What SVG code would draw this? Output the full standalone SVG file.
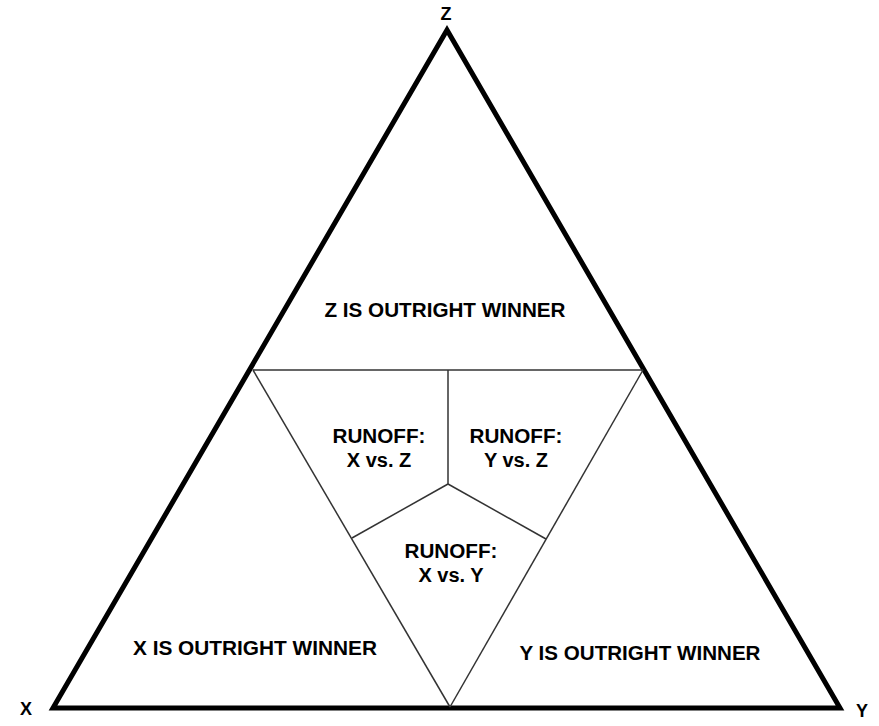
<svg xmlns="http://www.w3.org/2000/svg" width="879" height="726" viewBox="0 0 879 726">
<style>
.t{font-family:"Liberation Sans",Arial,sans-serif;font-weight:bold;font-size:20px;fill:#000;text-anchor:middle}
.v{font-family:"Liberation Sans",Arial,sans-serif;font-weight:bold;font-size:18px;fill:#000;text-anchor:middle}
.thin{stroke:#333;stroke-width:1.5;fill:none}
</style>
<rect width="879" height="726" fill="#fff"/>
<g id="connectors">
<polygon points="447,30 53,708 840,708" fill="none" stroke="#000" stroke-width="5" stroke-linejoin="miter"/>
<line class="thin" x1="253" y1="370" x2="643" y2="370"/>
<line class="thin" x1="253" y1="370" x2="450" y2="707"/>
<line class="thin" x1="643" y1="370" x2="450" y2="707"/>
<line class="thin" x1="448" y1="370" x2="448" y2="484"/>
<line class="thin" x1="448" y1="484" x2="352" y2="538"/>
<line class="thin" x1="448" y1="484" x2="546" y2="539"/>
</g>
<g id="vertexZ"><text class="v" x="446" y="20">Z</text></g>
<g id="vertexX"><text class="v" x="26" y="715">X</text></g>
<g id="vertexY"><text class="v" x="862" y="717">Y</text></g>
<g id="zWin"><text class="t" x="445" y="317" textLength="241" lengthAdjust="spacingAndGlyphs">Z IS OUTRIGHT WINNER</text></g>
<g id="xWin"><text class="t" x="255" y="655" textLength="244" lengthAdjust="spacingAndGlyphs">X IS OUTRIGHT WINNER</text></g>
<g id="yWin"><text class="t" x="640" y="660" textLength="241" lengthAdjust="spacingAndGlyphs">Y IS OUTRIGHT WINNER</text></g>
<g id="runoffXZ"><text class="t" x="379" y="443" textLength="93" lengthAdjust="spacingAndGlyphs">RUNOFF:</text><text class="t" x="379" y="467">X vs. Z</text></g>
<g id="runoffYZ"><text class="t" x="516" y="443" textLength="93" lengthAdjust="spacingAndGlyphs">RUNOFF:</text><text class="t" x="516" y="467">Y vs. Z</text></g>
<g id="runoffXY"><text class="t" x="451" y="558" textLength="93" lengthAdjust="spacingAndGlyphs">RUNOFF:</text><text class="t" x="451" y="582">X vs. Y</text></g>
</svg>
